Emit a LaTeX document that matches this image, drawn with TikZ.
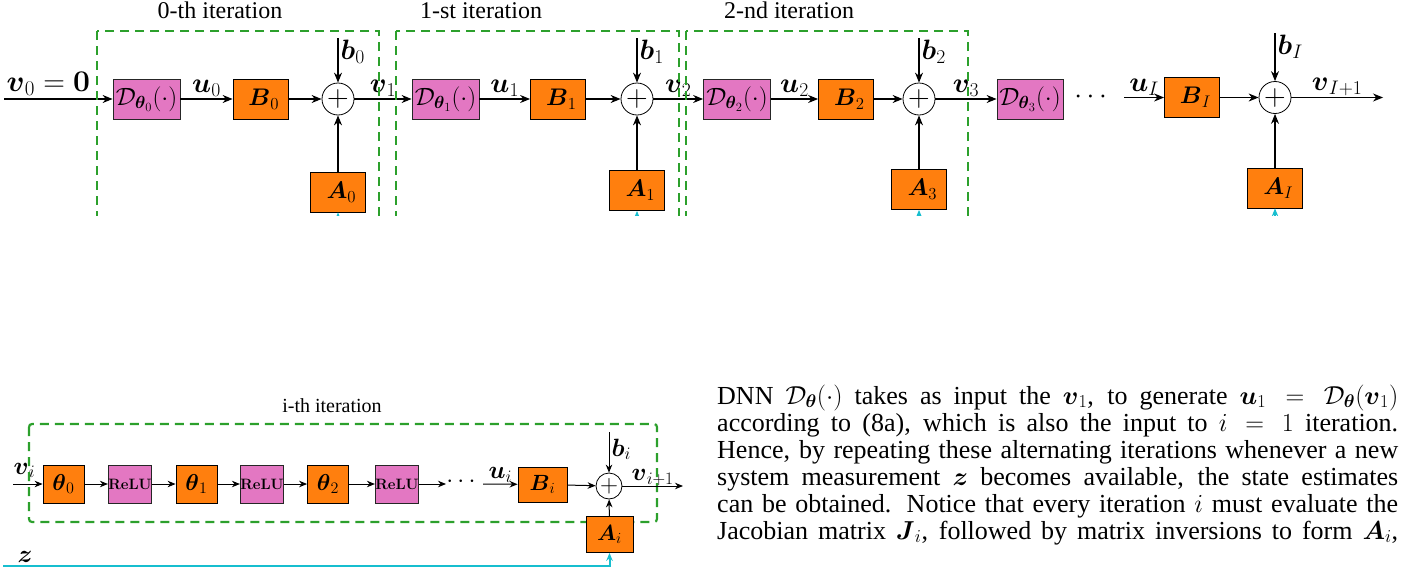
\RequirePackage{fix-cm}
\documentclass[tikz,border=0pt]{standalone}
\usepackage{amsmath}
\usepackage[no-math]{fontspec}
\setmainfont{Liberation Serif}
\usetikzlibrary{arrows.meta}
\definecolor{tOrange}{HTML}{FF7F0E}
\definecolor{tPink}{HTML}{E377C2}
\definecolor{tGreen}{HTML}{2CA02C}
\definecolor{tCyan}{HTML}{17BECF}
\tikzset{
  dnnbox/.style={draw=black!85, fill=tPink, line width=0.8pt, minimum width=67pt, minimum height=40pt, inner sep=0pt, font=\fontsize{25}{27}\selectfont},
  matbox/.style={draw=black, fill=tOrange, line width=0.8pt, minimum width=55pt, minimum height=40pt, inner sep=0pt, font=\fontsize{24}{26}\selectfont},
  sumnode/.style={circle, draw=black, fill=white, line width=0.8pt, minimum size=32pt, inner sep=0pt, font=\fontsize{30}{30}\selectfont},
  iterbox/.style={draw=tGreen, dashed, line width=2.2pt, dash pattern=on 9pt off 6pt},
  arr/.style={line width=1.1pt, -{Stealth[length=10pt,width=8pt]}},
  lbl/.style={inner sep=1.5pt, font=\fontsize{28}{30}\selectfont},
  ttl/.style={inner sep=0pt, font=\fontsize{24}{26}\selectfont},
  sarr/.style={line width=1pt, -{Stealth[length=8pt,width=6.5pt]}},
  sorange/.style={draw=black, fill=tOrange, line width=0.8pt, minimum width=41pt, minimum height=38pt, inner sep=0pt, font=\fontsize{23}{25}\selectfont},
  spink/.style={draw=black!85, fill=tPink, line width=0.8pt, minimum width=40pt, minimum height=38pt, inner sep=0pt, font=\fontsize{15}{17}\selectfont},
  slbl/.style={inner sep=1.5pt, font=\fontsize{25}{27}\selectfont},
  ssum/.style={circle, draw=black, fill=white, line width=0.8pt, minimum size=26pt, inner sep=0pt, font=\fontsize{25}{25}\selectfont},
  cyanarr/.style={draw=tCyan, line width=2pt, -{Stealth[length=8pt,width=6.5pt]}},
  paraline/.style={inner sep=0pt, anchor=base west, font=\fontsize{26}{27}\selectfont},
}
\begin{document}
\begin{tikzpicture}[x=1pt,y=-1pt]
\useasboundingbox (0,0) rectangle (1411,573);

% ---------- top diagram ----------
\node[ttl, anchor=base] (t0) at (220,18) {0-th iteration};
\node[ttl, anchor=base] (t1) at (481,18) {1-st iteration};
\node[ttl, anchor=base] (t2) at (789,18) {2-nd iteration};

\coordinate (vin) at (4,99);
\node[dnnbox] (D0) at (146.5,99) {$\mathcal{D}_{\boldsymbol{\theta}_0}(\cdot)$};
\node[matbox] (B0) at (260.5,99) {$\;\boldsymbol{B}_0$};
\node[sumnode] (S0) at (338,99) {$+$};
\node[matbox] (A0) at (338,192) {$\;\boldsymbol{A}_0$};
\coordinate (b0) at (338,38);

\node[dnnbox] (D1) at (445.5,99) {$\mathcal{D}_{\boldsymbol{\theta}_1}(\cdot)$};
\node[matbox] (B1) at (558,99) {$\;\boldsymbol{B}_1$};
\node[sumnode] (S1) at (637,99) {$+$};
\node[matbox] (A1) at (637,190.5) {$\;\boldsymbol{A}_1$};
\coordinate (b1) at (637,38);

\node[dnnbox] (D2) at (737,99) {$\mathcal{D}_{\boldsymbol{\theta}_2}(\cdot)$};
\node[matbox] (B2) at (846,99) {$\;\boldsymbol{B}_2$};
\node[sumnode] (S2) at (919,99) {$+$};
\node[matbox] (A3) at (919,189.5) {$\;\boldsymbol{A}_3$};
\coordinate (b2) at (919,38);

\node[dnnbox, minimum width=66pt] (D3) at (1030,99) {$\mathcal{D}_{\boldsymbol{\theta}_3}(\cdot)$};
\node[lbl] (dots) at (1093,97) {$\cdots$};

\coordinate (uI) at (1124,97.5);
\node[matbox] (BI) at (1192,97.5) {$\;\boldsymbol{B}_I$};
\node[sumnode] (SI) at (1275,97.5) {$+$};
\node[matbox] (AI) at (1275,188) {$\;\boldsymbol{A}_I$};
\coordinate (bI) at (1275,33);
\coordinate (vout) at (1383,97.5);

\draw[arr] (vin) -- (D0.west);
\node[lbl, anchor=base west, font=\fontsize{30}{32}\selectfont] (lv0) at (5,91) {$\boldsymbol{v}_0=\mathbf{0}$};
\draw[arr] (D0) -- node[lbl, above] (lu0) {$\boldsymbol{u}_0$} (B0);
\draw[arr] (B0) -- (S0);
\draw[arr] (b0) -- (S0.north);
\node[lbl, anchor=north west] (lb0) at (339,38) {$\boldsymbol{b}_0$};
\draw[arr] (A0) -- (S0);
\draw[arr] (S0) -- node[lbl, above] (lv1) {$\boldsymbol{v}_1$} (D1);

\draw[arr] (D1) -- node[lbl, above] (lu1) {$\boldsymbol{u}_1$} (B1);
\draw[arr] (B1) -- (S1);
\draw[arr] (b1) -- (S1.north);
\node[lbl, anchor=north west] (lb1) at (638,38) {$\boldsymbol{b}_1$};
\draw[arr] (A1) -- (S1);
\draw[arr] (S1) -- node[lbl, above] (lv2) {$\boldsymbol{v}_2$} (D2);

\draw[arr] (D2) -- node[lbl, above] (lu2) {$\boldsymbol{u}_2$} (B2);
\draw[arr] (B2) -- (S2);
\draw[arr] (b2) -- (S2.north);
\node[lbl, anchor=north west] (lb2) at (920,38) {$\boldsymbol{b}_2$};
\draw[arr] (A3) -- (S2);
\draw[arr] (S2) -- node[lbl, above] (lv3) {$\boldsymbol{v}_3$} (D3);

\draw[arr] (uI) -- node[lbl, above] (luI) {$\boldsymbol{u}_I$} (BI);
\draw[arr] (BI) -- (SI);
\draw[arr] (bI) -- (SI.north);
\node[lbl, anchor=north west] (lbI) at (1276,33) {$\boldsymbol{b}_I$};
\draw[arr] (AI) -- (SI);
\draw[arr] (SI) -- node[lbl, above] (lvI) {$\boldsymbol{v}_{I+1}$} (vout);

\begin{scope}
\clip (0,0) rectangle (1411,215);
\draw[iterbox] (97,31) rectangle (379,260);
\draw[iterbox] (396,31) rectangle (679,260);
\draw[iterbox] (686,31) rectangle (968,260);
\coordinate (c0) at (338,250);
\coordinate (c1) at (637,250);
\coordinate (c2) at (919,250);
\coordinate (c3) at (1275,250);
\draw[cyanarr] (c0) -- (A0.south);
\draw[cyanarr] (c1) -- (A1.south);
\draw[cyanarr] (c2) -- (A3.south);
\draw[cyanarr] (c3) -- (AI.south);
\end{scope}

% ---------- bottom diagram ----------
\node[inner sep=0pt, font=\fontsize{20}{22}\selectfont, anchor=base] (ti) at (332,412) {i-th iteration};
\draw[iterbox, rounded corners=3pt] (29,424) rectangle (657,522);

\coordinate (vi) at (13,484);
\node[sorange] (th0) at (63.5,484) {$\boldsymbol{\theta}_0$};
\node[spink] (R1) at (130,484) {$\mathbf{ReLU}$};
\node[sorange] (th1) at (196.5,484) {$\boldsymbol{\theta}_1$};
\node[spink] (R2) at (262,484) {$\mathbf{ReLU}$};
\node[sorange] (th2) at (328,484) {$\boldsymbol{\theta}_2$};
\node[spink] (R3) at (397,484) {$\mathbf{ReLU}$};
\coordinate (dE) at (446,484);
\node[slbl] (sdots) at (463,482) {$\cdots$};
\coordinate (uS) at (483,484);
\node[sorange, minimum width=49pt, minimum height=35pt, font=\fontsize{22}{24}\selectfont] (Bi) at (542.5,484.5) {$\boldsymbol{B}_i$};
\node[ssum] (Si) at (609,486) {$+$};
\node[sorange, minimum width=47pt, minimum height=36pt, font=\fontsize{22}{24}\selectfont] (Ai) at (609.5,534.5) {$\boldsymbol{A}_i$};
\coordinate (bi) at (609,432);
\coordinate (vo) at (683,486);

\draw[sarr] (vi) -- (th0);
\node[slbl, anchor=base west] (lvi) at (12,474) {$\boldsymbol{v}_i$};
\draw[sarr] (th0) -- (R1);
\draw[sarr] (R1) -- (th1);
\draw[sarr] (th1) -- (R2);
\draw[sarr] (R2) -- (th2);
\draw[sarr] (th2) -- (R3);
\draw[sarr] (R3) -- (dE);
\draw[sarr] (uS) -- node[slbl, above] (lui) {$\boldsymbol{u}_i$} (Bi);
\draw[sarr] (Bi) -- (Si);
\draw[sarr] (bi) -- (Si.north);
\node[slbl, anchor=north west] (lbi) at (610,437) {$\boldsymbol{b}_i$};
\draw[sarr] (Ai) -- (Si);
\draw[sarr] (Si) -- node[slbl, above, inner sep=0pt] (lvo) {$\boldsymbol{v}_{i+1}$} (vo);

\coordinate (zS) at (3,566);
\draw[cyanarr] (zS) -- (Ai.south |- zS) -- (Ai.south);
\node[slbl, anchor=base west] (lz) at (16,562) {$\boldsymbol{z}$};

% ---------- paragraph ----------
\node[paraline] (p1) at (717,404) {\makebox[681pt][s]{DNN $\mathcal{D}_{\boldsymbol{\theta}}(\cdot)$ takes as input the $\boldsymbol{v}_1$, to generate $\boldsymbol{u}_1=\mathcal{D}_{\boldsymbol{\theta}}(\boldsymbol{v}_1)$}};
\node[paraline] (p2) at (717,431) {\makebox[681pt][s]{according to (8a), which is also the input to $i=1$ iteration.}};
\node[paraline] (p3) at (717,458) {\makebox[681pt][s]{Hence, by repeating these alternating iterations whenever a new}};
\node[paraline] (p4) at (717,485) {\makebox[681pt][s]{system measurement $\boldsymbol{z}$ becomes available, the state estimates}};
\node[paraline] (p5) at (717,512) {\makebox[681pt][s]{can be obtained. Notice that every iteration $i$ must evaluate the}};
\node[paraline] (p6) at (717,539) {\makebox[681pt][s]{Jacobian matrix $\boldsymbol{J}_i$, followed by matrix inversions to form $\boldsymbol{A}_i$,}};
\end{tikzpicture}
\end{document}
